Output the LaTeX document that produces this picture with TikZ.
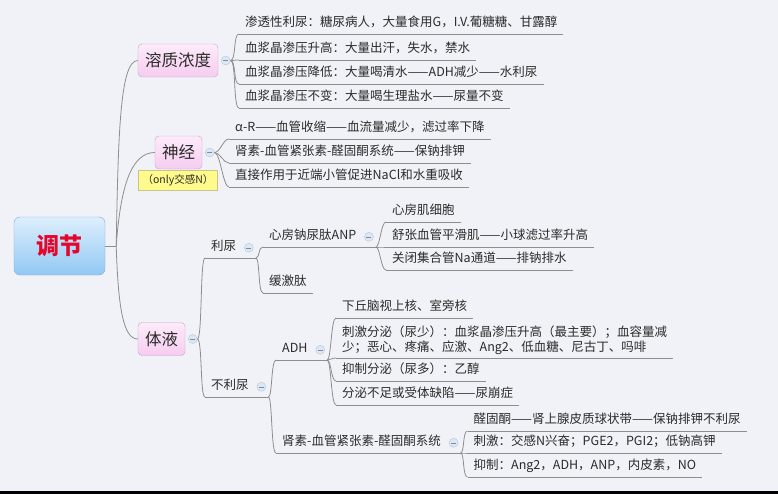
\documentclass[tikz,border=0pt]{standalone}
\usepackage{fontspec}
\setmainfont{Noto Sans CJK SC}
\usetikzlibrary{calc}

\definecolor{bgcol}{HTML}{F1F2F7}
\definecolor{linecol}{HTML}{8E8E8E}
\definecolor{txtcol}{HTML}{2B2B2B}
\definecolor{pinkdraw}{HTML}{C9A2C9}
\definecolor{pinktop}{HTML}{FDEBFA}
\definecolor{pinkbot}{HTML}{F6CCF0}
\definecolor{bluetop}{HTML}{DDEFFD}
\definecolor{bluebot}{HTML}{92C8F3}
\definecolor{bluedraw}{HTML}{80AACF}
\definecolor{rootred}{HTML}{E5062C}
\definecolor{tagfill}{HTML}{FEFB8C}
\definecolor{tagdraw}{HTML}{C9C58A}
\definecolor{ctlfill}{HTML}{DCE7F3}
\definecolor{ctldraw}{HTML}{B3C7DD}

\begin{document}
\begin{tikzpicture}[x=1pt,y=-1pt,
  branch/.style={draw=linecol,line width=0.8pt},
  rootbox/.style={draw=bluedraw,top color=bluetop,bottom color=bluebot,rounded corners=6pt,
    minimum width=91pt,minimum height=58pt,text=rootred,font=\fontsize{23}{25}\selectfont\bfseries},
  topic/.style={draw=pinkdraw,top color=pinktop,bottom color=pinkbot,rounded corners=4pt,
    minimum height=33pt,inner xsep=7pt,text=txtcol,font=\fontsize{16.5}{18}\selectfont},
  tagbox/.style={draw=tagdraw,fill=tagfill,minimum height=20pt,inner xsep=4pt,inner ysep=0pt,
    text=txtcol,font=\fontsize{10.5}{12}\selectfont},
  leaf/.style={anchor=south west,inner xsep=6pt,inner ysep=3.5pt,text height=9.5pt,text depth=3.5pt,
    text=txtcol,font=\fontsize{12.5}{15}\selectfont},
  leafml/.style={anchor=south west,inner xsep=6pt,inner ysep=3.5pt,align=left,
    text=txtcol,font=\fontsize{12.5}{15}\selectfont},
  ctl/.style={circle,draw=ctldraw,fill=ctlfill,minimum size=9pt,inner sep=0pt,
    path picture={\draw[ctldraw!70!black,line width=0.6pt]
      ([xshift=-2.5pt]path picture bounding box.center) -- ([xshift=2.5pt]path picture bounding box.center);}}]
\useasboundingbox (0,0) rectangle (778,494);
\fill[bgcol] (0,0) rectangle (778,494);
\fill[black] (0,491) rectangle (778,494);

% root and main topics
\node[rootbox] (tiaojie) at (59.5,246) {调节};
\node[topic] (rongzhi) at (178,60.5) {溶质浓度};
\node[topic] (shenjing) at (178.5,152.5) {神经};
\node[tagbox] (onlyjg) at (178,180) {（only交感N）};
\node[topic] (tiye) at (161.5,339) {体液};
\coordinate (r0) at ([xshift=11pt]tiaojie.east);
\draw[branch] (tiaojie.east) -- (r0);
\draw[branch] (r0) .. controls +(2,-110) and +(-18,0) .. (rongzhi.west);
\draw[branch] (r0) .. controls +(4,-55) and +(-25,0) .. (shenjing.west);
\draw[branch] (r0) .. controls +(2,60) and +(-15,0) .. (tiye.west);

% 溶质浓度
\node[ctl] (c-rongzhi) at ([xshift=7.5pt]rongzhi.east) {};
\node[leaf] (s1) at (239,34) {渗透性利尿：糖尿病人，大量食用G，I.V.葡糖糖、甘露醇};
\node[leaf] (s2) at (239,60) {血浆晶渗压升高：大量出汗，失水，禁水};
\node[leaf] (s3) at (239,84) {血浆晶渗压降低：大量喝清水——ADH减少——水利尿};
\node[leaf] (s4) at (239,108) {血浆晶渗压不变：大量喝生理盐水——尿量不变};
\foreach \n in {s1,s2,s3,s4}
  \draw[branch] (c-rongzhi.east) .. controls +(6,0) and +(-6,0) .. (\n.south west);

% 神经
\node[ctl] (c-shenjing) at ([xshift=7.5pt]shenjing.east) {};
\node[leaf] (n1) at (229,139) {α-R——血管收缩——血流量减少，滤过率下降};
\node[leaf] (n2) at (229,163) {肾素-血管紧张素-醛固酮系统——保钠排钾};
\node[leaf] (n3) at (229,187) {直接作用于近端小管促进NaCl和水重吸收};
\foreach \n in {n1,n2,n3}
  \draw[branch] (c-shenjing.east) .. controls +(6,0) and +(-6,0) .. (\n.south west);

% 体液
\node[ctl] (c-tiye) at ([xshift=7.5pt]tiye.east) {};
\node[leaf] (liniao) at (205,258) {利尿};
\node[leaf] (buliniao) at (205,397) {不利尿};
\foreach \n in {liniao,buliniao}
  \draw[branch] (c-tiye.east) .. controls +(5,0) and +(-5,0) .. (\n.south west);

\node[leaf] (anp) at (263,247) {心房钠尿肽ANP};
\node[leaf] (huanji) at (263,293) {缓激肽};
\node[leaf] (a1) at (386,222) {心房肌细胞};
\node[leaf] (a2) at (386,247) {舒张血管平滑肌——小球滤过率升高};
\node[leaf] (a3) at (386,270) {关闭集合管Na通道——排钠排水};

\node[leaf] (adh) at (276,360) {ADH};
\node[leaf] (raas) at (276,453) {肾素-血管紧张素-醛固酮系统};
\node[leaf] (d1) at (336,318) {下丘脑视上核、室旁核};
\node[leafml] (d2) at (336,358) {刺激分泌（尿少）：血浆晶渗压升高（最主要）；血容量减\\少；恶心、疼痛、应激、Ang2、低血糖、尼古丁、吗啡};
\node[leaf] (d3) at (336,381) {抑制分泌（尿多）：乙醇};
\node[leaf] (d4) at (336,405) {分泌不足或受体缺陷——尿崩症};
\node[leaf] (r1) at (467.5,431) {醛固酮——肾上腺皮质球状带——保钠排钾不利尿};
\node[leaf] (r2) at (467.5,453) {刺激：交感N兴奋；PGE2，PGI2；低钠高钾};
\node[leaf] (r3) at (467.5,477) {抑制：Ang2，ADH，ANP，内皮素，NO};

% collapse marks and underlines
\foreach \p in {liniao,anp,buliniao,adh,raas}{
  \node[ctl] (c-\p) at ([xshift=6.5pt]\p.east) {};
  \coordinate (j-\p) at ($(c-\p.center |- \p.south)+(7,0)$);
  \draw[branch] (\p.south west) -- (j-\p);
}
\foreach \p/\k in {liniao/anp,liniao/huanji,anp/a1,anp/a2,anp/a3,buliniao/adh,buliniao/raas,
    adh/d1,adh/d2,adh/d3,adh/d4,raas/r1,raas/r2,raas/r3}
  \draw[branch] (j-\p) .. controls +(4,0) and +(-5,0) .. (\k.south west);
\foreach \n in {s1,s2,s3,s4,n1,n2,n3,huanji,a1,a2,a3,d1,d2,d3,d4,r1,r2,r3}
  \draw[branch] (\n.south west) -- (\n.south east);
\end{tikzpicture}
\end{document}
